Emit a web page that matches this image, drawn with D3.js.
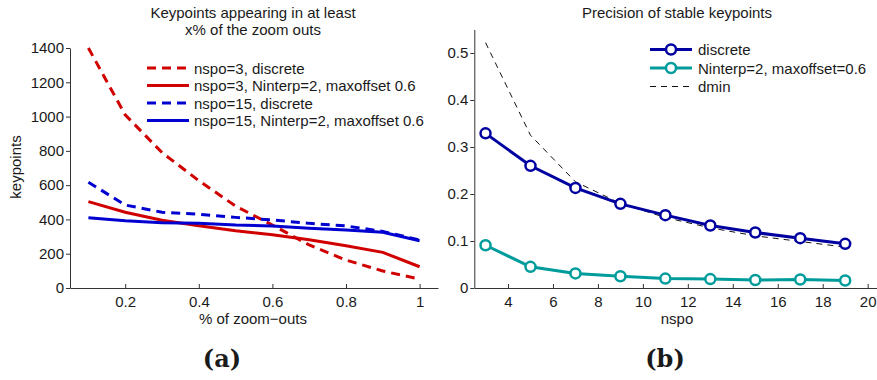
<!DOCTYPE html>
<html>
<head>
<meta charset="utf-8">
<script src="https://cdn.jsdelivr.net/npm/d3@7"></script>
<style>
  body { margin: 0; background: #fff; }
  svg text { font-family: "Liberation Sans", Arial, sans-serif; fill: #1a1a1a; }
  .axis path, .axis line { stroke: #333; stroke-width: 1; }
  .axis text { font-size: 15px; }
</style>
</head>
<body>
<div id="chart"></div>
<script>
// panel (a): keypoints vs fraction of zoom-outs
var zoomFrac = [0.1, 0.2, 0.3, 0.4, 0.5, 0.6, 0.7, 0.8, 0.9, 1.0];
var kp3Discrete  = [1400, 1010, 790, 626, 478, 367, 251, 163, 99, 52];
var kp3Interp    = [504, 442, 395, 363, 334, 310, 281, 247, 208, 124];
var kp15Discrete = [617, 484, 442, 430, 412, 397, 377, 362, 330, 280];
var kp15Interp   = [410, 393, 381, 377, 367, 362, 348, 338, 325, 276];
var kpTicksX = [0.2, 0.4, 0.6, 0.8, 1];
var kpTicksY = [0, 200, 400, 600, 800, 1000, 1200, 1400];

// panel (b): precision vs nspo
var nspo = [3, 5, 7, 9, 11, 13, 15, 17, 19];
var precDiscrete = [0.329, 0.260, 0.213, 0.179, 0.155, 0.133, 0.118, 0.106, 0.094];
var precInterp   = [0.091, 0.045, 0.031, 0.025, 0.020, 0.019, 0.017, 0.018, 0.016];
var dmin         = [0.522, 0.325, 0.226, 0.180, 0.150, 0.128, 0.111, 0.099, 0.087];
var nspoTicks = [4, 6, 8, 10, 12, 14, 16, 18, 20];
var precTicks = [0, 0.1, 0.2, 0.3, 0.4, 0.5];

var svg = d3.select("#chart").append("svg")
    .attr("width", 877).attr("height", 380)
    .style("overflow", "visible");

function drawAxes(x, y, xt, yt, xfmt, yfmt) {
  svg.append("g").attr("class", "axis")
    .attr("transform", "translate(0," + y.range()[0] + ")")
    .call(d3.axisBottom(x).tickValues(xt).tickFormat(xfmt)
      .tickSizeInner(-4).tickSizeOuter(0).tickPadding(8.5));
  svg.append("g").attr("class", "axis")
    .attr("transform", "translate(" + x.range()[0] + ",0)")
    .call(d3.axisLeft(y).tickValues(yt).tickFormat(yfmt)
      .tickSizeInner(4).tickSizeOuter(0).tickPadding(2));
}

// ---------- (a) ----------
var xa = d3.scaleLinear().domain([0.05, 1.05]).range([70, 438]);
var ya = d3.scaleLinear().domain([0, 1400]).range([288, 48]);
drawAxes(xa, ya, kpTicksX, kpTicksY, d3.format("~g"), d3.format("d"));

var seriesA = [
  {name: "nspo=3, discrete", vals: kp3Discrete, color: "#d10000", dash: "9,6"},
  {name: "nspo=3, Ninterp=2, maxoffset 0.6", vals: kp3Interp, color: "#d10000", dash: null},
  {name: "nspo=15, discrete", vals: kp15Discrete, color: "#0000d0", dash: "9,6"},
  {name: "nspo=15, Ninterp=2, maxoffset 0.6", vals: kp15Interp, color: "#0000d0", dash: null}
];
var lineA = d3.line().x(function(d) { return xa(d[0]); }).y(function(d) { return ya(d[1]); });

seriesA.forEach(function(s, i) {
  svg.append("path")
    .datum(zoomFrac.map(function(f, j) { return [f, s.vals[j]]; }))
    .attr("d", lineA)
    .attr("fill", "none")
    .attr("stroke", s.color)
    .attr("stroke-width", 3)
    .attr("stroke-dasharray", s.dash);
  // legend
  var ly = 68 + i * 17.5;
  svg.append("line").attr("x1", 147).attr("x2", 189).attr("y1", ly).attr("y2", ly)
    .attr("stroke", s.color).attr("stroke-width", 3).attr("stroke-dasharray", s.dash);
  svg.append("text").attr("x", 194).attr("y", ly + 5.5).style("font-size", "15px").text(s.name);
});

svg.append("text").attr("x", 253).attr("y", 18).attr("text-anchor", "middle")
  .style("font-size", "15px").text("Keypoints appearing in at least");
svg.append("text").attr("x", 253).attr("y", 35).attr("text-anchor", "middle")
  .style("font-size", "15px").text("x% of the zoom outs");
svg.append("text").attr("x", 253).attr("y", 324).attr("text-anchor", "middle")
  .style("font-size", "15px").text("% of zoom\u2212outs");
svg.append("text").attr("transform", "translate(21,167) rotate(-90)").attr("text-anchor", "middle")
  .style("font-size", "15px").text("keypoints");
svg.append("text").attr("x", 222).attr("y", 367).attr("text-anchor", "middle")
  .style("font-family", "'DejaVu Serif', serif").style("font-weight", "bold")
  .style("font-size", "24px").text("(a)");

// ---------- (b) ----------
var xb = d3.scaleLinear().domain([2.5, 20.5]).range([474.3, 878.9]);
var yb = d3.scaleLinear().domain([0, 0.55]).range([288, 29.5]);
drawAxes(xb, yb, nspoTicks, precTicks, d3.format("d"), d3.format("~g"));

var lineB = d3.line().x(function(d) { return xb(d[0]); }).y(function(d) { return yb(d[1]); });

svg.append("path")
  .datum(nspo.map(function(n, j) { return [n, dmin[j]]; }))
  .attr("d", lineB).attr("fill", "none")
  .attr("stroke", "#111").attr("stroke-width", 1).attr("stroke-dasharray", "6,5");

var seriesB = [
  {name: "discrete", vals: precDiscrete, color: "#0000a0"},
  {name: "Ninterp=2, maxoffset=0.6", vals: precInterp, color: "#009c9c"}
];
seriesB.forEach(function(s, i) {
  var pts = nspo.map(function(n, j) { return [n, s.vals[j]]; });
  svg.append("path").datum(pts).attr("d", lineB).attr("fill", "none")
    .attr("stroke", s.color).attr("stroke-width", 3);
  svg.selectAll(null).data(pts).enter().append("circle")
    .attr("cx", function(d) { return xb(d[0]); })
    .attr("cy", function(d) { return yb(d[1]); })
    .attr("r", 5).attr("fill", "#fff")
    .attr("stroke", s.color).attr("stroke-width", 2.5);
  var ly = 49.5 + i * 18.5;
  svg.append("line").attr("x1", 650).attr("x2", 692).attr("y1", ly).attr("y2", ly)
    .attr("stroke", s.color).attr("stroke-width", 3);
  svg.append("circle").attr("cx", 671).attr("cy", ly).attr("r", 5).attr("fill", "#fff")
    .attr("stroke", s.color).attr("stroke-width", 2.5);
  svg.append("text").attr("x", 698).attr("y", ly + 5.5).style("font-size", "15px").text(s.name);
});
svg.append("line").attr("x1", 650).attr("x2", 692).attr("y1", 86.5).attr("y2", 86.5)
  .attr("stroke", "#111").attr("stroke-width", 1).attr("stroke-dasharray", "6,5");
svg.append("text").attr("x", 698).attr("y", 92).style("font-size", "15px").text("dmin");

svg.append("text").attr("x", 677).attr("y", 18).attr("text-anchor", "middle")
  .style("font-size", "15px").text("Precision of stable keypoints");
svg.append("text").attr("x", 677).attr("y", 324).attr("text-anchor", "middle")
  .style("font-size", "15px").text("nspo");
svg.append("text").attr("x", 665).attr("y", 367).attr("text-anchor", "middle")
  .style("font-family", "'DejaVu Serif', serif").style("font-weight", "bold")
  .style("font-size", "24px").text("(b)");
</script>
</body>
</html>
